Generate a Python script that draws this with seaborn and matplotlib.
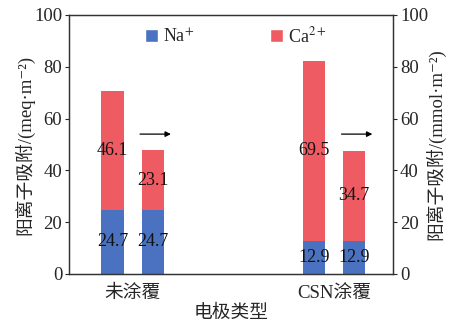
import matplotlib
matplotlib.use("Agg")
import matplotlib.pyplot as plt
from matplotlib.patches import Patch
import numpy as np
import pandas as pd
import seaborn as sns

# Data
groups = ["未涂覆", "CSN涂覆"]
units = ["meq", "mmol"]
na_values = [24.7, 24.7, 12.9, 12.9]      # per (group, unit)
ca_values = [46.1, 23.1, 69.5, 34.7]
yticks = [0, 20, 40, 60, 80, 100]

blue = "#4A72C0"
red = "#EF5B62"

sns.set_theme(style="white")
plt.rcParams["font.family"] = ["Liberation Serif", "Noto Sans CJK SC", "DejaVu Serif"]
plt.rcParams["mathtext.fontset"] = "stix"

df = pd.DataFrame({
    "group": [g for g in groups for _ in units],
    "unit": units * len(groups),
    "Na": na_values,
    "Ca": ca_values,
})
df["total"] = df["Na"] + df["Ca"]

fig = plt.figure(figsize=(4.55, 3.25), dpi=100)
ax = fig.add_axes([0.152, 0.157, 0.712, 0.797])

common = dict(data=df, x="group", hue="unit", order=groups, hue_order=units,
              width=0.4, gap=0.45, dodge=True, legend=False, ax=ax,
              saturation=1, linewidth=0, errorbar=None)
sns.barplot(y="total", palette=[red, red], **common)
sns.barplot(y="Na", palette=[blue, blue], **common)

# Value labels centred in each segment
offsets = [-0.1, 0.1]
for gi, g in enumerate(groups):
    for ui, u in enumerate(units):
        row = df[(df.group == g) & (df.unit == u)].iloc[0]
        x = gi + offsets[ui]
        ax.text(x, row.Na / 2, f"{row.Na:.1f}", ha="center", va="center",
                fontsize=13, color="#111111")
        ax.text(x, row.Na + row.Ca / 2, f"{row.Ca:.1f}", ha="center",
                va="center", fontsize=13, color="#111111")
    # arrow pointing at the right-hand axis
    ax.annotate("", xy=(gi + 0.19, 54), xytext=(gi + 0.037, 54),
                arrowprops=dict(arrowstyle="-|>", color="black", lw=0.9,
                                mutation_scale=8, shrinkA=0, shrinkB=0))

ax.set_xlim(-0.315, 1.293)
ax.set_ylim(0, 100)
ax.set_yticks(yticks)
ax.set_yticklabels([str(t) for t in yticks], fontsize=13.5)
ax.tick_params(axis="x", length=0, labelsize=13.5, pad=8)
ax.tick_params(axis="y", direction="out", length=3, width=0.8, pad=2, left=True)
ax.set_xlabel("电极类型", fontsize=13.5, labelpad=2)
ax.set_ylabel("阳离子吸附/(meq·m⁻²)", fontsize=13.5, labelpad=0)
for s in ax.spines.values():
    s.set_color("#333333")
    s.set_linewidth(0.9)

ax2 = ax.twinx()
ax2.set_ylim(0, 100)
ax2.set_yticks(yticks)
ax2.set_yticklabels([str(t) for t in yticks], fontsize=13.5)
ax2.tick_params(axis="y", direction="out", length=3, width=0.8, pad=2, right=True)
ax2.set_ylabel("阳离子吸附/(mmol·m⁻²)", fontsize=13.5, labelpad=-2)
for s in ax2.spines.values():
    s.set_color("#333333")
    s.set_linewidth(0.9)

handles = [Patch(facecolor=blue, label="Na$^{+}$"),
           Patch(facecolor=red, label="Ca$^{2+}$")]
ax.legend(handles=handles, loc="upper center", bbox_to_anchor=(0.515, 1.02),
          ncol=2, frameon=False, fontsize=13, handlelength=0.7,
          handleheight=0.7, handletextpad=0.3, columnspacing=4.2)

fig.savefig("out.png", dpi=100)
